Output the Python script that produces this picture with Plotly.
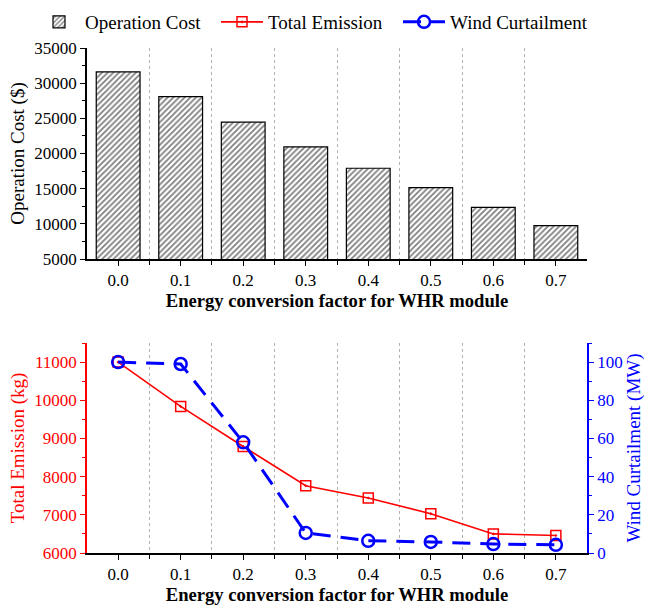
import plotly.graph_objects as go

factors = [0.0, 0.1, 0.2, 0.3, 0.4, 0.5, 0.6, 0.7]
factor_labels = ["0.0", "0.1", "0.2", "0.3", "0.4", "0.5", "0.6", "0.7"]
operation_cost = [31600, 28100, 24450, 20930, 17900, 15150, 12350, 9740]
total_emission = [11000, 9840, 8790, 7760, 7440, 7030, 6500, 6460]
wind_curtailment = [100, 99, 58, 10.5, 6.4, 5.8, 4.7, 4.3]

mids = [(a + b) / 2 for a, b in zip(factors[:-1], factors[1:])]

FONT = "Liberation Serif"
W, H = 651, 605
ML, MR, MT, MB = 87, 64, 48, 52
PH = H - MT - MB
PW = W - ML - MR

def py(px):
    return 1 - (px - MT) / PH

def pxx(px):
    return (px - ML) / PW

fig = go.Figure()

fig.add_trace(go.Bar(
    x=factors, y=operation_cost, name="Operation Cost", width=0.07,
    marker=dict(color="white", line=dict(color="black", width=1.2),
                pattern=dict(shape="/", fgcolor="black", bgcolor="white", size=4, solidity=0.45)),
    xaxis="x", yaxis="y", legend="legend",
))
fig.add_trace(go.Scatter(
    x=factors, y=total_emission, name="Total Emission", mode="lines+markers",
    line=dict(color="red", width=1.6),
    marker=dict(symbol="square-open-dot", size=10, color="red", line=dict(width=1.5, color="red")),
    xaxis="x2", yaxis="y2", legend="legend2",
))
fig.add_trace(go.Scatter(
    x=factors, y=wind_curtailment, name="Wind Curtailment", mode="lines+markers",
    line=dict(color="blue", width=3, dash="18px,10px"),
    marker=dict(symbol="circle-open", size=12, color="blue", line=dict(width=2.5, color="blue")),
    xaxis="x2", yaxis="y3", legend="legend3",
))

tickfont = dict(family=FONT, size=17, color="black")
xcommon = dict(
    range=[-0.0498, 0.7498], tickmode="array", tickvals=factors, ticktext=factor_labels,
    ticks="outside", ticklen=5, tickwidth=1.2, tickcolor="black",
    showline=True, linecolor="black", linewidth=1.5, showgrid=False, zeroline=False,
    tickfont=tickfont,
    minor=dict(tickmode="array", tickvals=mids, ticks="outside", ticklen=4, tickcolor="black",
               showgrid=True, gridcolor="#b0b0b0", griddash="dot", gridwidth=1),
    title=dict(text="<b>Energy conversion factor for WHR module</b>",
               font=dict(family=FONT, size=18.6, color="black"), standoff=3),
)

def legend_at(px):
    return dict(orientation="h", x=pxx(px), y=py(22), yanchor="middle", xanchor="left",
                font=dict(family=FONT, size=19, color="black"), itemwidth=42,
                bgcolor="rgba(0,0,0,0)")

fig.update_layout(
    width=W, height=H,
    margin=dict(l=ML, r=MR, t=MT, b=MB, autoexpand=False),
    paper_bgcolor="white", plot_bgcolor="white",
    font=dict(family=FONT, size=17, color="black"),
    showlegend=True,
    legend=legend_at(33),
    legend2=legend_at(216),
    legend3=legend_at(398),
    xaxis=dict(domain=[0, 1], anchor="y", **xcommon),
    yaxis=dict(domain=[py(259), 1], anchor="x", range=[5000, 35000], dtick=5000, tick0=5000,
               tickformat="d", ticks="outside", ticklen=5, tickwidth=1.2, tickcolor="black",
               showline=True, linecolor="black", linewidth=1.5, showgrid=False, zeroline=False,
               tickfont=tickfont,
               minor=dict(dtick=2500, ticks="outside", ticklen=3, tickcolor="black"),
               title=dict(text="Operation Cost ($)", font=dict(family=FONT, size=19, color="black"),
                          standoff=5)),
    xaxis2=dict(domain=[0, 1], anchor="y2", **xcommon),
    yaxis2=dict(domain=[0, py(343)], anchor="x2", range=[6000, 11500], dtick=1000, tick0=6000,
                tickformat="d", ticks="outside", ticklen=5, tickwidth=1.2, tickcolor="red",
                showline=True, linecolor="red", linewidth=1.5, showgrid=False, zeroline=False,
                tickfont=dict(family=FONT, size=17, color="red"),
                minor=dict(dtick=500, ticks="outside", ticklen=3, tickcolor="red"),
                title=dict(text="Total Emission (kg)", font=dict(family=FONT, size=19, color="red"),
                           standoff=5)),
    yaxis3=dict(overlaying="y2", side="right", anchor="x2", range=[0, 110], dtick=20, tick0=0,
                ticks="outside", ticklen=5, tickwidth=1.2, tickcolor="blue",
                showline=True, linecolor="blue", linewidth=1.5, showgrid=False, zeroline=False,
                tickfont=dict(family=FONT, size=17, color="blue"),
                minor=dict(dtick=10, ticks="outside", ticklen=3, tickcolor="blue"),
                title=dict(text="Wind Curtailment (MW)", font=dict(family=FONT, size=19, color="blue"),
                           standoff=3)),
)

fig.write_html("out.html", config={"displayModeBar": False},
               post_script="document.body.style.margin='0';")
